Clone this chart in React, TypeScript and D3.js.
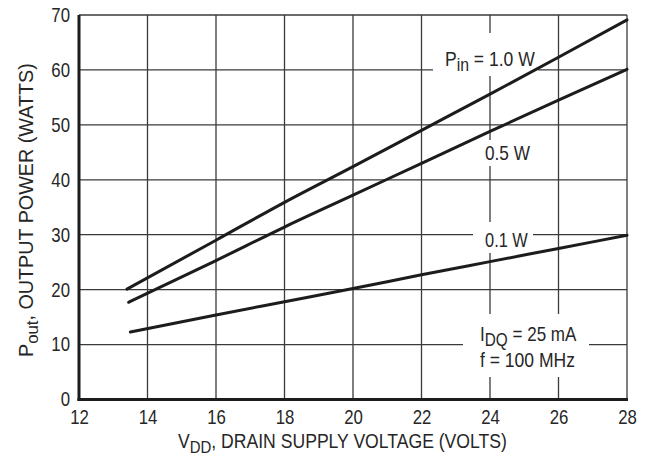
import React, { useEffect, useRef } from 'react';
import * as d3 from 'd3';

// Pout vs VDD curves
const vdd10 = [13.4, 16, 18, 20, 22, 24, 26, 28];
const pout10 = [20.1, 29.0, 35.9, 42.4, 49.0, 55.6, 62.3, 69.1];

const vdd05 = [13.45, 16, 18, 20, 22, 24, 26, 28];
const pout05 = [17.7, 25.3, 31.4, 37.2, 43.0, 48.8, 54.5, 60.1];

const vdd01 = [13.5, 16, 18, 20, 22, 24, 26, 28];
const pout01 = [12.3, 15.4, 17.8, 20.2, 22.7, 25.1, 27.5, 29.9];

const xTicks = [12, 14, 16, 18, 20, 22, 24, 26, 28];
const yTicks = [0, 10, 20, 30, 40, 50, 60, 70];

const WIDTH = 650;
const HEIGHT = 464;
const margin = { top: 15, right: 23, bottom: 64.5, left: 79 };
const FONT = '"Liberation Sans", Arial, sans-serif';
const SQUEEZE = 0.84;
const INK = '#1c1c1c';
const GRID = '#3a3a3a';
const TXT = '#262626';

// squeeze a text horizontally so it spans `width` pixels (condensed face look)
const fitWidth = (text: d3.Selection<SVGTextElement, unknown, null, undefined>, width: number) => {
    const node = text.node();
    if (!node) return;
    const w = node.getBBox().width;
    if (w > 0) text.attr('transform', `scale(${width / w},1)`);
};

const App = () => {
    const ref = useRef<SVGSVGElement | null>(null);

    useEffect(() => {
        const svg = d3.select(ref.current);
        svg.selectAll('*').remove();

        const w = WIDTH - margin.left - margin.right;
        const h = HEIGHT - margin.top - margin.bottom;

        const x = d3.scaleLinear().domain([12, 28]).range([0, w]);
        const y = d3.scaleLinear().domain([0, 70]).range([h, 0]);

        const g = svg.append('g').attr('transform', `translate(${margin.left},${margin.top})`);

        // grid
        g.selectAll('line.vgrid')
            .data(xTicks.slice(1))
            .enter()
            .append('line')
            .attr('class', 'vgrid')
            .attr('x1', d => x(d)).attr('x2', d => x(d))
            .attr('y1', 0).attr('y2', h)
            .attr('stroke', GRID).attr('stroke-width', 1.3);

        g.selectAll('line.hgrid')
            .data(yTicks.slice(1))
            .enter()
            .append('line')
            .attr('class', 'hgrid')
            .attr('x1', 0).attr('x2', w)
            .attr('y1', d => y(d)).attr('y2', d => y(d))
            .attr('stroke', GRID).attr('stroke-width', 1.3);

        // white patches behind the in-plot labels (they cut the grid)
        const boxes = [
            [433, 33, 538, 76],
            [481, 140, 533, 166],
            [473, 222, 533, 253],
            [463, 314, 589, 377],
        ];
        g.selectAll('rect.patch')
            .data(boxes)
            .enter()
            .append('rect')
            .attr('class', 'patch')
            .attr('x', d => d[0] - margin.left)
            .attr('y', d => d[1] - margin.top)
            .attr('width', d => d[2] - d[0])
            .attr('height', d => d[3] - d[1])
            .attr('fill', '#fff');

        // axes frame: thick left and bottom
        g.append('line')
            .attr('x1', 0).attr('x2', 0).attr('y1', 0).attr('y2', h + 1.5)
            .attr('stroke', INK).attr('stroke-width', 3);
        g.append('line')
            .attr('x1', -1.5).attr('x2', w + 1).attr('y1', h).attr('y2', h)
            .attr('stroke', INK).attr('stroke-width', 3);

        const xAxis = d3.axisBottom(x).tickValues(xTicks).tickSize(0).tickPadding(10.5);
        const gx = g.append('g').attr('transform', `translate(0,${h})`).call(xAxis);
        gx.select('.domain').remove();
        gx.selectAll('text')
            .attr('font-family', FONT).attr('font-size', 20).attr('fill', TXT)
            .attr('transform', `scale(${SQUEEZE},1)`);

        const yAxis = d3.axisLeft(y).tickValues(yTicks).tickSize(0);
        const gy = g.append('g').call(yAxis);
        gy.select('.domain').remove();
        gy.selectAll('text')
            .attr('font-family', FONT).attr('font-size', 20).attr('fill', TXT)
            .attr('x', -9 / SQUEEZE)
            .attr('transform', `scale(${SQUEEZE},1)`);

        // curves
        const line = d3.line<[number, number]>()
            .x(d => x(d[0]))
            .y(d => y(d[1]))
            .curve(d3.curveMonotoneX);

        const series = [
            d3.zip(vdd10, pout10),
            d3.zip(vdd05, pout05),
            d3.zip(vdd01, pout01),
        ];
        g.selectAll('path.curve')
            .data(series)
            .enter()
            .append('path')
            .attr('class', 'curve')
            .attr('d', d => line(d as [number, number][]))
            .attr('fill', 'none')
            .attr('stroke', INK)
            .attr('stroke-width', 3)
            .attr('stroke-linecap', 'round');

        // text placed at page coords, squeezed to the reference width
        const place = (px: number, py: number, size: number, rotate = 0) => {
            const holder = svg.append('g')
                .attr('transform', `translate(${px},${py})${rotate ? ` rotate(${rotate})` : ''}`);
            return holder.append('text')
                .attr('font-family', FONT)
                .attr('font-size', size)
                .attr('fill', TXT);
        };

        const pin = place(445, 66, 20);
        pin.append('tspan').text('P');
        pin.append('tspan').attr('dy', 5).attr('font-size', 18).text('in');
        pin.append('tspan').attr('dy', -5).text(' = 1.0 W');
        fitWidth(pin, 90);

        const l05 = place(485, 160, 20).text('0.5 W');
        fitWidth(l05, 45);
        const l01 = place(485, 247, 20).text('0.1 W');
        fitWidth(l01, 43);

        const idq = place(480, 341, 20);
        idq.append('tspan').text('I');
        idq.append('tspan').attr('dy', 5).attr('font-size', 18).text('DQ');
        idq.append('tspan').attr('dy', -5).text(' = 25 mA');
        fitWidth(idq, 97);
        const fq = place(480, 367, 20).text('f = 100 MHz');
        fitWidth(fq, 95);

        // axis titles
        const xt = place(178, 448, 20);
        xt.append('tspan').text('V');
        xt.append('tspan').attr('dy', 5).attr('font-size', 17).text('DD');
        xt.append('tspan').attr('dy', -5).text(', DRAIN SUPPLY VOLTAGE (VOLTS)');
        fitWidth(xt, 329);

        const yt = place(33, 357, 20, -90);
        yt.append('tspan').text('P');
        yt.append('tspan').attr('dy', 5).attr('font-size', 17).text('out');
        yt.append('tspan').attr('dy', -5).text(', OUTPUT POWER (WATTS)');
        fitWidth(yt, 294);
    }, []);

    return (
        <svg
            ref={ref}
            width={WIDTH}
            height={HEIGHT}
            style={{ position: 'absolute', left: 0, top: 0, background: '#fff' }}
        />
    );
};

export default App;
